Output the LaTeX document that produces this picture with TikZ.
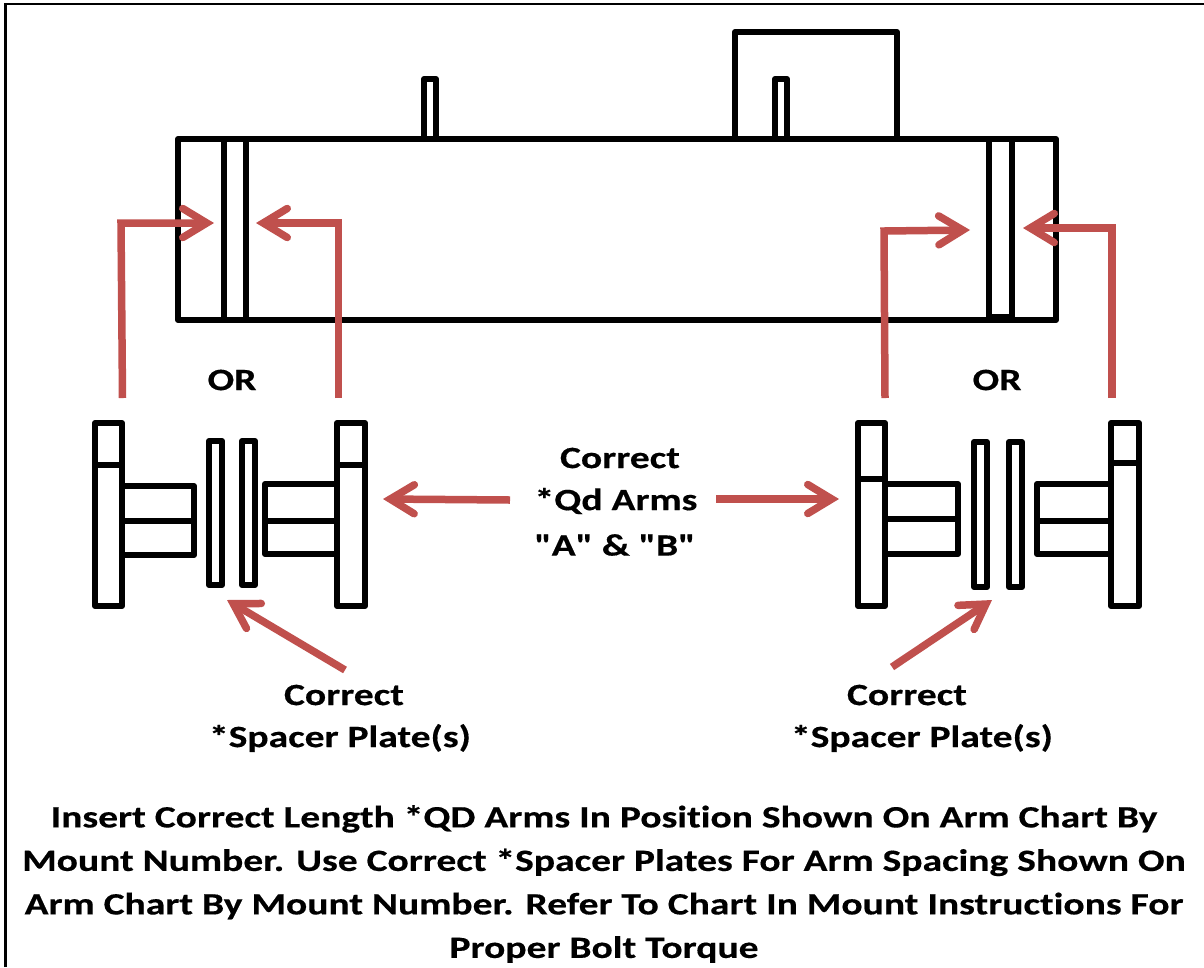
\documentclass[tikz,border=0pt]{standalone}
\usepackage{fontspec}
\setmainfont{Carlito}[FakeStretch=1.275, Ligatures={TeXOff,NoCommon}, BoldFeatures={FakeBold=0.4}]
\usetikzlibrary{arrows.meta}

\begin{document}
\begin{tikzpicture}[x=1pt, y=-1pt, part line/.style={draw=black, line width=6pt, line join=round}, red arrow/.style={draw=arrowred, line width=7.5pt, -{Straight Barb[length=24pt, width=29pt, line cap=round]}}, label node/.style={font=\fontsize{31}{43.5}\selectfont\bfseries, inner sep=0pt, align=center}]
\definecolor{arrowred}{HTML}{C0504D}
\useasboundingbox (0,0) rectangle (1204,967);
\draw[line width=2.5pt] (5.5,967) -- (5.5,4) -- (1204,4);
% crossarm
\draw[part line] (178,139) rectangle (1056,320);
\draw[part line] (735,139) -- (735,32) -- (897,32) -- (897,139);
\foreach \x/\w/\y/\b in {424/436/79/139, 775/787/79/139, 223.5/246/139/320, 989/1012/139/317}{
    \draw[part line] (\x,\y) rectangle (\w,\b);}
% arm blocks: flange, divider, arm
\foreach \x/\w/\d in {95/122/465, 337/365/465, 858/885/479, 1111/1139/463}{
    \draw[part line] (\x,423) rectangle (\w,606);
    \draw[part line] (\x,\d) -- (\w,\d);}
\foreach \x/\w/\t/\m/\b in {122/194/486/521/555, 265/337/484/521/554, 885/958/484/519/554, 1037/1111/484/521/554}{
    \draw[part line] (\x,\t) rectangle (\w,\b);
    \draw[part line] (\x,\m) -- (\w,\m);}
% spacer plates
\foreach \x/\w/\t/\b in {209/222/441/585, 242/255/441/585, 974/987/442/587, 1009/1022/442/587}{
    \draw[part line] (\x,\t) rectangle (\w,\b);}
% ends of the arrows
\coordinate (arm ll) at (122.5,398);
\coordinate (arm ll top) at (121,223);
\coordinate (slot ll) at (214,223);
\coordinate (arm lr) at (338.5,398);
\coordinate (arm lr top) at (338.5,223);
\coordinate (slot lr) at (256,223);
\coordinate (arm rl) at (885,398);
\coordinate (arm rl top) at (884,231);
\coordinate (slot rl) at (970,230);
\coordinate (arm rr) at (1112,398);
\coordinate (arm rr top) at (1112,228);
\coordinate (slot rr) at (1023,228);
\foreach \s/\m/\t in {arm ll/arm ll top/slot ll, arm lr/arm lr top/slot lr, arm rl/arm rl top/slot rl, arm rr/arm rr top/slot rr}{
    \draw[red arrow] (\s) -- (\m) -- (\t);}
\coordinate (qd l) at (510,500);
\coordinate (block l) at (383,499);
\coordinate (qd r) at (716,499);
\coordinate (block r) at (839,499);
\coordinate (spacer l) at (345,670);
\coordinate (gap l) at (227,600);
\coordinate (spacer r) at (892,667);
\coordinate (gap r) at (992,600);
\foreach \s/\t in {qd l/block l, qd r/block r, spacer l/gap l, spacer r/gap r}{
    \draw[red arrow] (\s) -- (\t);}
% labels
\foreach \n/\x/\y/\s in {or l/232/380/OR, or r/997/380/OR, qd 1/620/458/Correct, qd 2/616/501/*Qd Arms, qd 3/615/545/"A" \& "B", sp 1/344/695/Correct, sp 2/340/738/*Spacer Plate(s), sp 3/907/695/Correct, sp 4/922/738/*Spacer Plate(s)}{
    \node[label node] (\n) at (\x,\y) {\s};}
\node[label node] (note) at (604,884) {Insert Correct Length *QD Arms In Position Shown On Arm Chart By\\ Mount Number. Use Correct *Spacer Plates For Arm Spacing Shown On\\ Arm Chart By Mount Number. Refer To Chart In Mount Instructions For\\ Proper Bolt Torque};
\end{tikzpicture}
\end{document}
